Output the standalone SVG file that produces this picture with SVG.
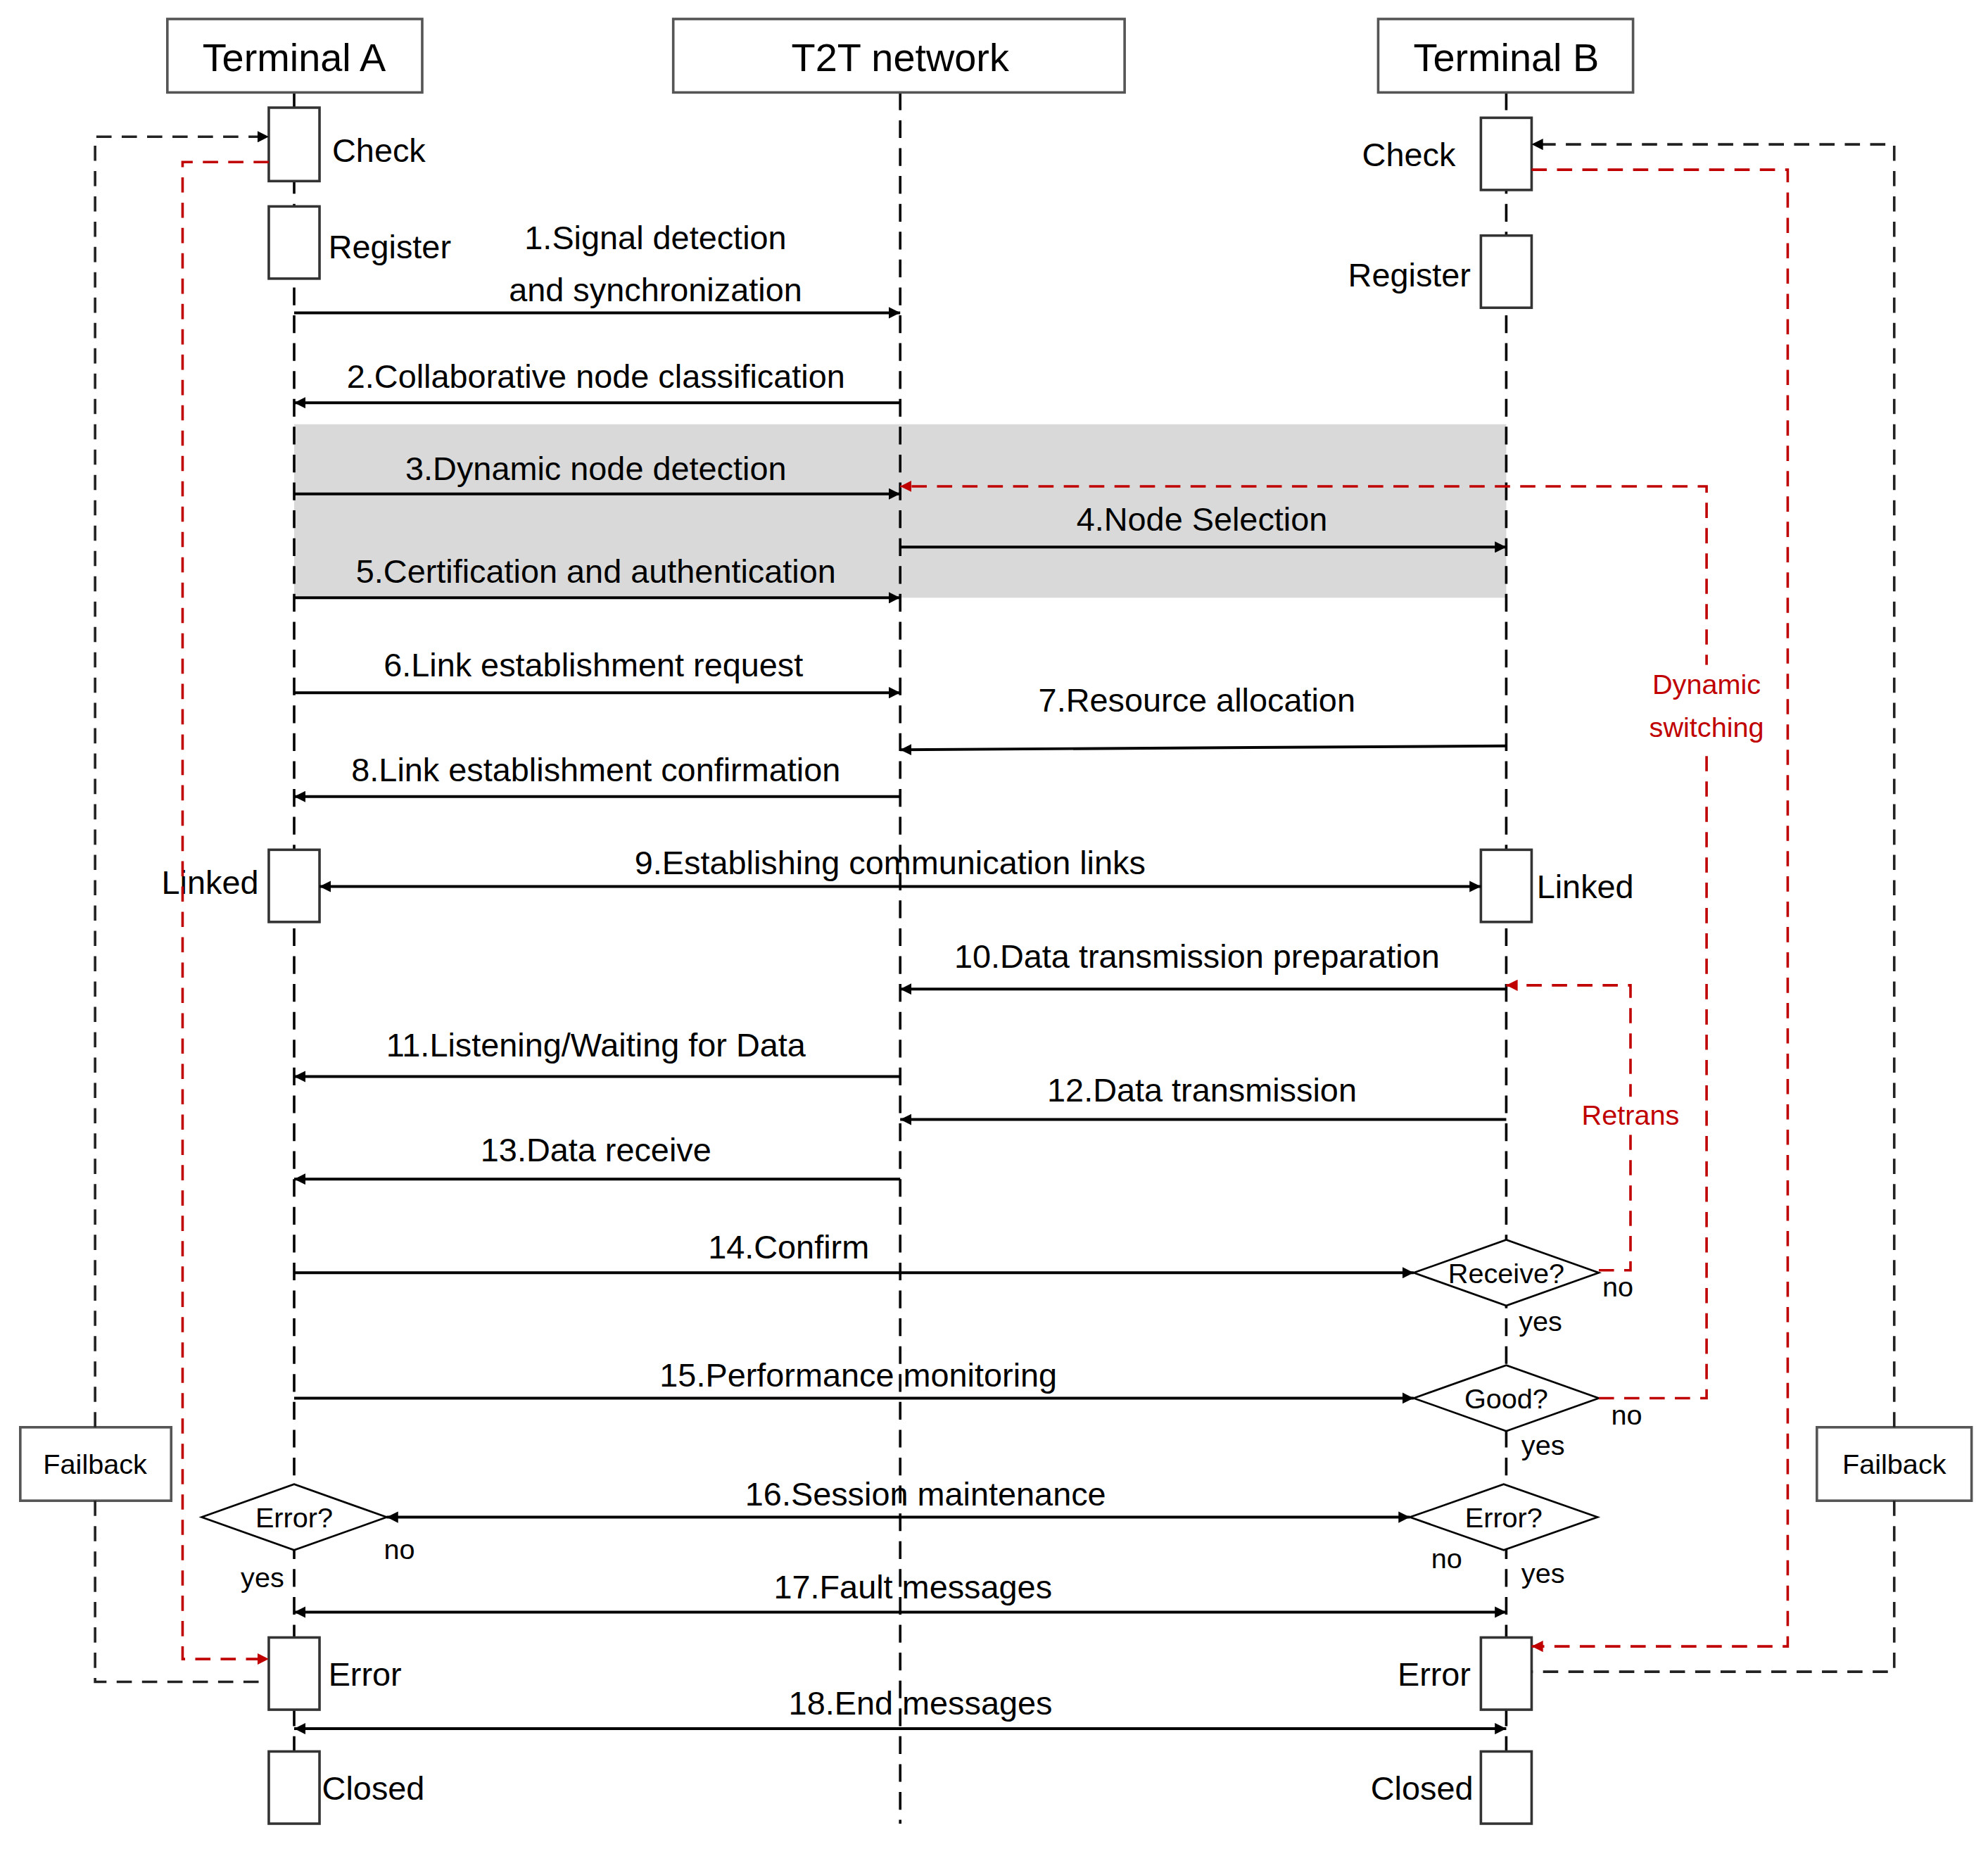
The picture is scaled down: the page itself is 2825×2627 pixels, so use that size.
<svg xmlns="http://www.w3.org/2000/svg" width="2825" height="2627" viewBox="0 0 2825 2627">
<defs>
<style>
text{font-family:"Liberation Sans",Arial,sans-serif;font-size:26px;fill:#000}
.t{font-size:31px}
.s{font-size:22px}
.c{text-anchor:middle}
.e{text-anchor:end}
.r{fill:#c00000}
.box{fill:#fff;stroke:#555;stroke-width:2}
.act{fill:#fff;stroke:#333;stroke-width:2}
.life{stroke:#000;stroke-width:2;stroke-dasharray:14 8;fill:none}
.m{stroke:#000;stroke-width:2.2;fill:none}
.bd{stroke:#222;stroke-width:2;stroke-dasharray:12 8;fill:none}
.rd{stroke:#c00000;stroke-width:2;stroke-dasharray:12 8;fill:none}
</style>
<marker id="a" viewBox="0 0 10 10" refX="10" refY="5" markerWidth="9" markerHeight="9" markerUnits="userSpaceOnUse" orient="auto-start-reverse"><path d="M0,0L10,5L0,10z" fill="#000"/></marker>
<marker id="ar" viewBox="0 0 10 10" refX="10" refY="5" markerWidth="9" markerHeight="9" markerUnits="userSpaceOnUse" orient="auto-start-reverse"><path d="M0,0L10,5L0,10z" fill="#c00000"/></marker>
</defs>
<rect width="2825" height="2627" fill="#fff"/>
<g transform="scale(1.8017,1.7993)">
<rect x="232" y="335" width="956" height="137" fill="#d9d9d9"/>
<g id="lifelines">
<path class="life" d="M232,73V1440M710,73V1440M1188,73V1440"/>
</g>
<g id="termA"><rect class="box" x="132" y="15" width="201" height="58"/><text class="t c" x="232" y="56">Terminal A</text></g>
<g id="t2t"><rect class="box" x="531" y="15" width="356" height="58"/><text class="t c" x="710" y="56">T2T network</text></g>
<g id="termB"><rect class="box" x="1087" y="15" width="201" height="58"/><text class="t c" x="1188" y="56">Terminal B</text></g>
<g id="actA">
<rect class="act" x="212" y="85" width="40" height="58"/><text x="262" y="128">Check</text>
<rect class="act" x="212" y="163" width="40" height="57"/><text x="259" y="204">Register</text>
<rect class="act" x="212" y="671" width="40" height="57"/><text class="e" x="204" y="706">Linked</text>
<rect class="act" x="212" y="1293" width="40" height="57"/><text x="259" y="1331">Error</text>
<rect class="act" x="212" y="1383" width="40" height="57"/><text x="254" y="1421">Closed</text>
</g>
<g id="actB">
<rect class="act" x="1168" y="93" width="40" height="57"/><text class="e" x="1148" y="131">Check</text>
<rect class="act" x="1168" y="186" width="40" height="57"/><text class="e" x="1160" y="226">Register</text>
<rect class="act" x="1168" y="671" width="40" height="57"/><text x="1212" y="709">Linked</text>
<rect class="act" x="1168" y="1293" width="40" height="57"/><text class="e" x="1160" y="1331">Error</text>
<rect class="act" x="1168" y="1383" width="40" height="57"/><text class="e" x="1162" y="1421">Closed</text>
</g>
<g id="decisions">
<polygon points="1115,1005 1188,979 1261,1005 1188,1031" fill="#fff" stroke="#000" stroke-width="1.5"/><text class="s c" x="1188" y="1013">Receive?</text>
<polygon points="1115,1104 1188,1078 1261,1104 1188,1130" fill="#fff" stroke="#000" stroke-width="1.5"/><text class="s c" x="1188" y="1112">Good?</text>
<polygon points="1112,1198 1186,1172 1260,1198 1186,1224" fill="#fff" stroke="#000" stroke-width="1.5"/><text class="s c" x="1186" y="1206">Error?</text>
<polygon points="159,1198 232,1172 305,1198 232,1224" fill="#fff" stroke="#000" stroke-width="1.5"/><text class="s c" x="232" y="1206">Error?</text>
</g>
<g id="failA"><rect class="box" x="16" y="1127" width="119" height="58"/><text class="s c" x="75" y="1164">Failback</text></g>
<g id="failB"><rect class="box" x="1433" y="1127" width="122" height="58"/><text class="s c" x="1494" y="1164">Failback</text></g>
<g id="connectors">
<path class="m" d="M232,247H710" marker-end="url(#a)"/>
<path class="m" d="M710,318H232" marker-end="url(#a)"/>
<path class="m" d="M232,390H710" marker-end="url(#a)"/>
<path class="m" d="M710,432H1188" marker-end="url(#a)"/>
<path class="m" d="M232,472H710" marker-end="url(#a)"/>
<path class="m" d="M232,547H710" marker-end="url(#a)"/>
<path class="m" d="M1188,589L710,592" marker-end="url(#a)"/>
<path class="m" d="M710,629H232" marker-end="url(#a)"/>
<path class="m" d="M252,700H1168" marker-start="url(#a)" marker-end="url(#a)"/>
<path class="m" d="M1188,781H710" marker-end="url(#a)"/>
<path class="m" d="M710,850H232" marker-end="url(#a)"/>
<path class="m" d="M1188,884H710" marker-end="url(#a)"/>
<path class="m" d="M710,931H232" marker-end="url(#a)"/>
<path class="m" d="M232,1005H1115" marker-end="url(#a)"/>
<path class="m" d="M232,1104H1115" marker-end="url(#a)"/>
<path class="m" d="M305,1198H1112" marker-start="url(#a)" marker-end="url(#a)"/>
<path class="m" d="M232,1273H1188" marker-start="url(#a)" marker-end="url(#a)"/>
<path class="m" d="M232,1365H1188" marker-start="url(#a)" marker-end="url(#a)"/>
<path class="rd" d="M212,128H144V1310H212" marker-end="url(#ar)"/>
<path class="bd" d="M75,1127V108H212" marker-end="url(#a)"/>
<path class="bd" d="M75,1185V1328H212"/>
<path class="rd" d="M1208,134H1410V1300H1208" marker-end="url(#ar)"/>
<path class="bd" d="M1494,1127V114H1208" marker-end="url(#a)"/>
<path class="bd" d="M1494,1185V1320H1208"/>
<path class="rd" d="M1261,1104H1346V384H710" marker-end="url(#ar)"/>
<path class="rd" d="M1261,1003H1286V778H1188" marker-end="url(#ar)"/>
</g>
<g id="labels">
<text class="c" x="517" y="197">1.Signal detection</text>
<text class="c" x="517" y="238">and synchronization</text>
<text class="c" x="470" y="306">2.Collaborative node classification</text>
<text class="c" x="470" y="379">3.Dynamic node detection</text>
<text class="c" x="948" y="419">4.Node Selection</text>
<text class="c" x="470" y="460">5.Certification and authentication</text>
<text class="c" x="468" y="534">6.Link establishment request</text>
<text class="c" x="944" y="562">7.Resource allocation</text>
<text class="c" x="470" y="617">8.Link establishment confirmation</text>
<text class="c" x="702" y="690">9.Establishing communication links</text>
<text class="c" x="944" y="764">10.Data transmission preparation</text>
<text class="c" x="470" y="834">11.Listening/Waiting for Data</text>
<text class="c" x="948" y="870">12.Data transmission</text>
<text class="c" x="470" y="917">13.Data receive</text>
<text class="c" x="622" y="994">14.Confirm</text>
<text class="c" x="677" y="1095">15.Performance monitoring</text>
<text class="c" x="730" y="1189">16.Session maintenance</text>
<text class="c" x="720" y="1262">17.Fault messages</text>
<text class="c" x="726" y="1354">18.End messages</text>
<rect x="1290" y="525" width="112" height="66" fill="#fff"/>
<text class="s c r" x="1346" y="548">Dynamic</text>
<text class="s c r" x="1346" y="582">switching</text>
<rect x="1240" y="866" width="92" height="30" fill="#fff"/>
<text class="s c r" x="1286" y="888">Retrans</text>
<text class="s c" x="1276" y="1024">no</text>
<text class="s c" x="1215" y="1051">yes</text>
<text class="s c" x="1283" y="1125">no</text>
<text class="s c" x="1217" y="1149">yes</text>
<text class="s c" x="315" y="1231">no</text>
<text class="s c" x="207" y="1253">yes</text>
<text class="s c" x="1141" y="1238">no</text>
<text class="s c" x="1217" y="1250">yes</text>
</g>
</g>
</svg>
